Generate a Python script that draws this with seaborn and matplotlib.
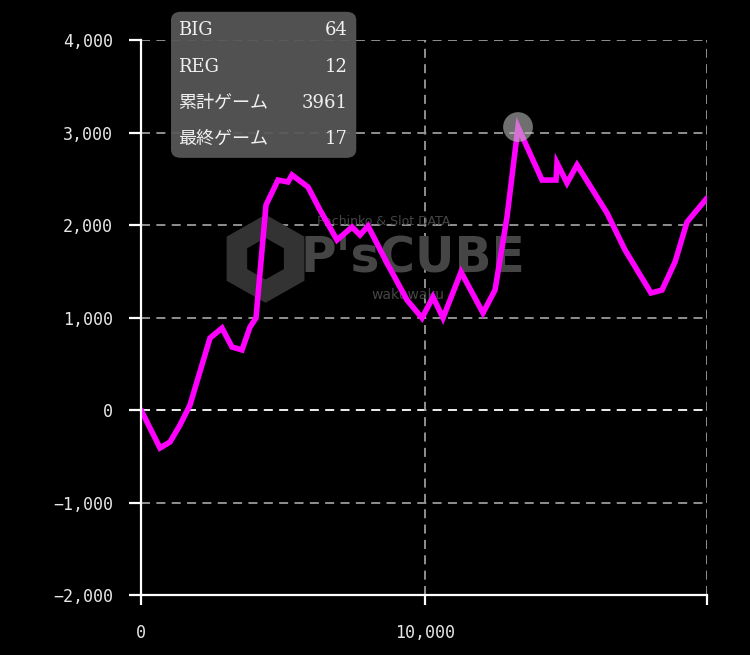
import matplotlib
matplotlib.use('Agg')
import matplotlib.pyplot as plt
import matplotlib.ticker as mticker
from matplotlib.patches import FancyBboxPatch, RegularPolygon
import seaborn as sns
import pandas as pd

# slot data graph: cumulative coin difference by game count
games = [0, 669, 1021, 1373, 1725, 2430, 2852, 3204, 3556, 3838, 4049, 4401,
         4824, 5176, 5317, 5880, 6303, 6901, 7430, 7711, 7993, 8662, 9366,
         9894, 10282, 10634, 11268, 12042, 12465, 12887, 13275, 14120, 14613,
         14648, 15000, 15352, 16408, 17042, 17958, 18345, 18803, 19225, 19930]
diff = [0, -411, -346, -162, 54, 778, 886, 681, 649, 897, 995, 2216,
        2486, 2465, 2541, 2411, 2162, 1838, 1978, 1892, 1989, 1589, 1189,
        995, 1222, 995, 1492, 1049, 1297, 2086, 3059, 2486, 2486,
        2670, 2454, 2649, 2130, 1730, 1265, 1297, 1600, 2032, 2292]

y_ticks = [-2000, -1000, 0, 1000, 2000, 3000, 4000]
x_ticks = [0, 10000]

info_labels = ['BIG', 'REG', '累計ゲーム', '最終ゲーム']
info_values = ['64', '12', '3961', '17']

df = pd.DataFrame({'game': games, 'diff': diff})

sns.set_style('dark', {'axes.facecolor': 'black', 'figure.facecolor': 'black'})
plt.rcParams['font.family'] = ['DejaVu Sans Mono']

fig = plt.figure(figsize=(7.5, 6.55), dpi=100, facecolor='black')
ax = fig.add_axes([0.188, 0.0916, 0.7547, 0.8473])
ax.set_facecolor('black')

x_end = games[-1]
ax.set_xlim(0, x_end)
ax.set_ylim(y_ticks[0], y_ticks[-1])

# grid lines
dash = (0, (5, 3.5))
for y in y_ticks[1:]:
    col = 'white' if y == 0 else '#9a9a9a'
    ax.axhline(y, color=col, lw=1.3, ls=dash, zorder=1)
for x in x_ticks[1:] + [x_end]:
    ax.axvline(x, color='#9a9a9a', lw=1.3, ls=dash, zorder=1)

# watermark
wm = '#454545'
ax.add_patch(RegularPolygon((0.22, 0.606), numVertices=6, radius=0.078,
                            transform=ax.transAxes, color='#333333', zorder=1))
ax.add_patch(RegularPolygon((0.22, 0.606), numVertices=6, radius=0.036,
                            transform=ax.transAxes, color='black', zorder=1))
ax.text(5600, 1640, "P'sCUBE", color=wm, fontsize=35, fontweight='bold',
        family='DejaVu Sans', ha='left', va='center', zorder=1)
ax.text(6200, 2040, 'Pachinko & Slot DATA', color=wm, fontsize=9,
        family='DejaVu Sans', ha='left', va='center', zorder=1)
ax.text(8100, 1240, 'wakuwaku', color=wm, fontsize=10,
        family='DejaVu Sans', ha='left', va='center', zorder=1)

sns.lineplot(data=df, x='game', y='diff', ax=ax, color='#ff00ff', lw=4,
             zorder=3, solid_joinstyle='miter')

# hover marker on the peak
peak = df.loc[df['diff'].idxmax()]
ax.scatter([peak['game']], [peak['diff']], s=460, color='#bbbbbb', alpha=0.6,
           edgecolors='none', zorder=4)

for side in ['top', 'right']:
    ax.spines[side].set_visible(False)
for side in ['left', 'bottom']:
    ax.spines[side].set_color('white')
    ax.spines[side].set_linewidth(1.6)
    ax.spines[side].set_zorder(5)

fmt = mticker.FuncFormatter(lambda v, p: f'{v:,.0f}'.replace('-', '\u2212'))
ax.set_yticks(y_ticks)
ax.yaxis.set_major_formatter(fmt)
ax.set_xticks(x_ticks + [x_end])
ax.set_xticklabels([f'{v:,}' for v in x_ticks] + [''])
ax.tick_params(axis='y', colors='white', labelcolor='#e6e6e6', length=9,
               width=1.6, pad=11, labelsize=12, left=True)
ax.tick_params(axis='x', colors='white', labelcolor='#e6e6e6', length=7,
               width=1.6, pad=14, labelsize=12, bottom=True)
ax.set_xlabel('')
ax.set_ylabel('')

# info box
box = FancyBboxPatch((0.228, 0.759), 0.247, 0.223, transform=fig.transFigure,
                     boxstyle='round,pad=0,rounding_size=0.013',
                     facecolor='#585858', edgecolor='none', alpha=0.93, zorder=10)
fig.patches.append(box)
row_y = [0.954, 0.898, 0.843, 0.788]
for lab, val, yy in zip(info_labels, info_values, row_y):
    fig.text(0.237, yy, lab, color='#f0f0f0', fontsize=13,
             family=['DejaVu Serif', 'Noto Sans CJK JP'], ha='left', va='center', zorder=11)
    fig.text(0.463, yy, val, color='#f0f0f0', fontsize=13,
             family=['DejaVu Serif', 'Noto Sans CJK JP'], ha='right', va='center', zorder=11)

fig.savefig('out.png', dpi=100, facecolor='black')
